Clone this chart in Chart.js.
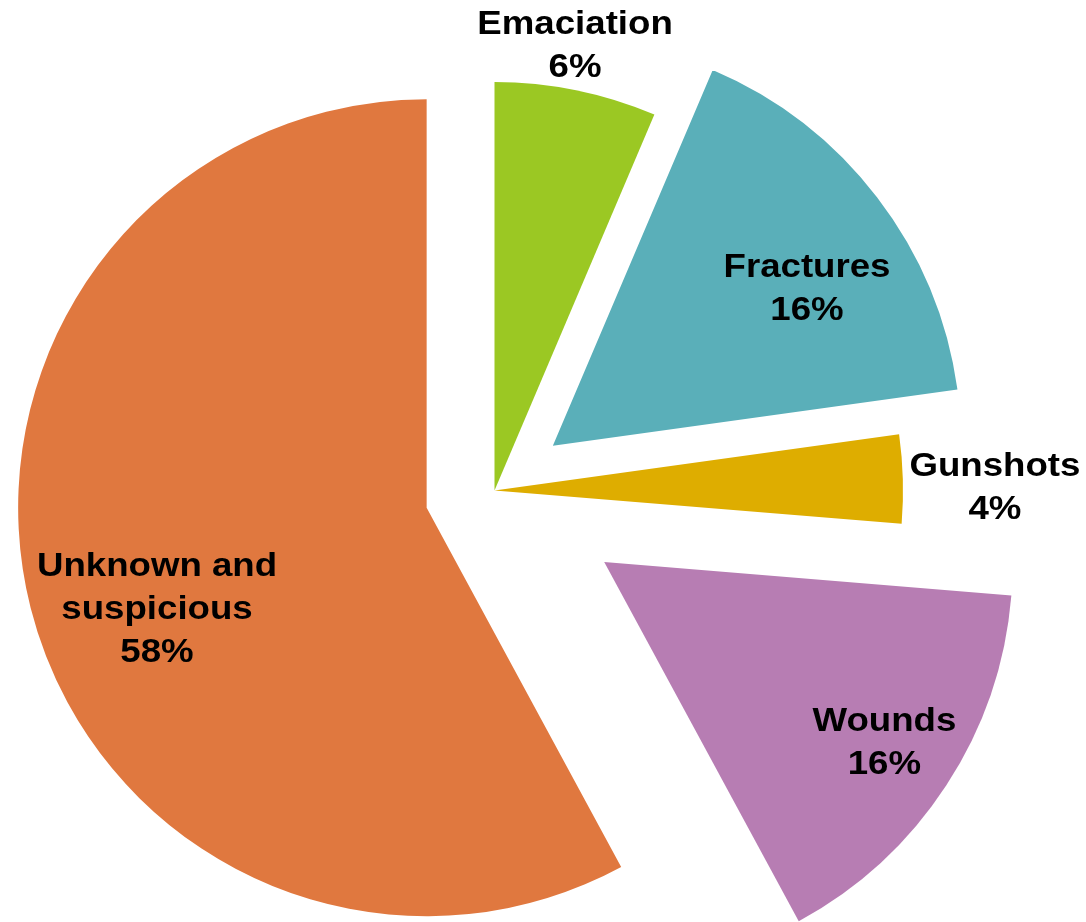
<!DOCTYPE html>
<html>
<head>
<meta charset="utf-8">
<script src="https://cdn.jsdelivr.net/npm/chart.js@4"></script>
<style>
  html, body { margin: 0; padding: 0; background: #ffffff; overflow: hidden; }
  canvas { display: block; }
</style>
</head>
<body>
<canvas id="pieChart" width="1086" height="922"></canvas>
<script>
const categorias = ['Emaciation', 'Fractures', 'Gunshots', 'Wounds', 'Unknown and suspicious'];
const parcelas = [6.4, 16.4, 3.5, 15.8, 57.9];
const linhasRotulo = [['Emaciation'], ['Fractures'], ['Gunshots'], ['Wounds'], ['Unknown and', 'suspicious']];

// Estilo
const cores = ['#9BC823', '#5AAFB9', '#DEAD00', '#B77DB3', '#E0783F'];
const explosao = [0, 73.5, 0, 131, 70];           // deslocamento de cada fatia (px)
const rotuloRaio = [1.105, 0.731, 1.225, 0.817, 0.706]; // distância do rótulo (fração do raio)
const rotuloAjuste = [-1.24, 5.77, 1.4, -0.2, -6.56]; // ajuste angular do rótulo (graus)

// Desenha as fatias deslocadas ao longo da bissetriz
const pluginExplosao = {
    id: 'explosao',
    beforeDatasetDraw(chart, args) {
        const ctx = chart.ctx;
        args.meta.data.forEach((arc, i) => {
            const meio = (arc.startAngle + arc.endAngle) / 2;
            const d = explosao[i] || 0;
            ctx.save();
            ctx.translate(Math.cos(meio) * d, Math.sin(meio) * d);
            arc.draw(ctx);
            ctx.restore();
        });
        return false;
    }
};

// Rótulos com nome e porcentagem
const pluginRotulos = {
    id: 'rotulos',
    afterDatasetsDraw(chart) {
        const ctx = chart.ctx;
        const meta = chart.getDatasetMeta(0);
        ctx.save();
        ctx.fillStyle = '#000000';
        ctx.font = 'bold 33px "Liberation Sans", Arial, sans-serif';
        ctx.textAlign = 'center';
        ctx.textBaseline = 'middle';
        meta.data.forEach((arc, i) => {
            const bis = (arc.startAngle + arc.endAngle) / 2;
            const ang = bis + rotuloAjuste[i] * Math.PI / 180;
            const r = arc.outerRadius * rotuloRaio[i];
            const x = arc.x + Math.cos(bis) * explosao[i] + Math.cos(ang) * r;
            const y = arc.y + Math.sin(bis) * explosao[i] + Math.sin(ang) * r;
            const linhas = linhasRotulo[i].concat([Math.round(parcelas[i]) + '%']);
            const alturaLinha = 43;
            const topo = y - (linhas.length - 1) * alturaLinha / 2;
            linhas.forEach((txt, k) => {
                ctx.save();
                ctx.translate(x, topo + k * alturaLinha);
                ctx.scale(1.11, 1);
                ctx.fillText(txt, 0, 0);
                ctx.restore();
            });
        });
        ctx.restore();
    }
};

const ctx = document.getElementById('pieChart').getContext('2d');
new Chart(ctx, {
    type: 'pie',
    data: {
        labels: categorias,
        datasets: [{
            data: parcelas,
            backgroundColor: cores,
            borderWidth: 0,
            hoverOffset: 0
        }]
    },
    options: {
        responsive: false,
        animation: false,
        layout: { padding: { left: 86, top: 82, right: 183, bottom: 23 } },
        plugins: {
            legend: { display: false },
            tooltip: { enabled: false }
        },
        events: []
    },
    plugins: [pluginExplosao, pluginRotulos]
});
</script>
</body>
</html>
